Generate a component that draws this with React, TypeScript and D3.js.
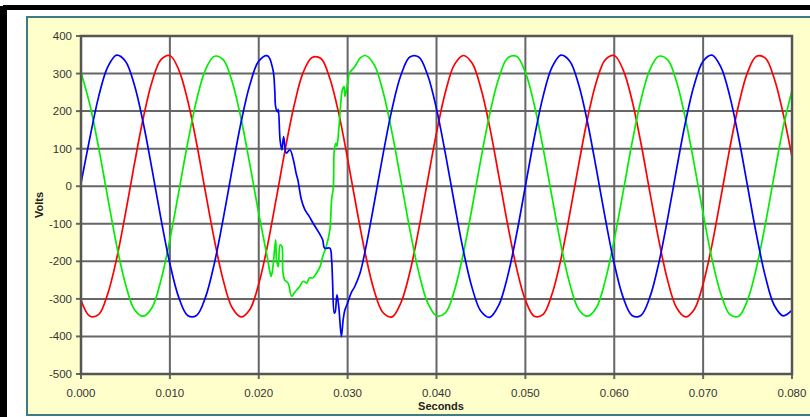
import * as d3 from "d3";
import { useRef, useEffect } from "react";

// [seconds, volts]
const blueSeries: [number, number][] = [
  [0.0, 8], [0.001, 129], [0.002, 240], [0.003, 317], [0.004, 349], [0.005, 333],
  [0.006, 270], [0.007, 169], [0.008, 44], [0.009, -87], [0.01, -206], [0.011, -296],
  [0.012, -344], [0.013, -344], [0.014, -296], [0.015, -206], [0.016, -87], [0.017, 44],
  [0.018, 169], [0.019, 270], [0.02, 333], [0.021, 347],
  // fault
  [0.0216, 310], [0.0218, 256], [0.0219, 212], [0.0221, 198], [0.0222, 205],
  [0.0224, 123], [0.0226, 97], [0.0228, 132], [0.0231, 88], [0.0235, 97],
  [0.0239, 70], [0.0242, 35], [0.0244, 17], [0.0248, -36], [0.0252, -63],
  [0.0257, -81], [0.0261, -98], [0.0267, -121], [0.0272, -143], [0.0274, -165],
  [0.028, -165], [0.0282, -196], [0.0283, -249], [0.0285, -338], [0.0286, -335],
  [0.0288, -289], [0.029, -320], [0.0293, -400], [0.0295, -355], [0.0297, -329],
  [0.03, -311], [0.0304, -284], [0.0308, -267], [0.0314, -231],
  [0.032, -169], [0.033, -44], [0.034, 87], [0.035, 206], [0.036, 296], [0.037, 344],
  [0.038, 344], [0.039, 296], [0.04, 206], [0.041, 87], [0.042, -44], [0.043, -169],
  [0.044, -270], [0.045, -333], [0.046, -349], [0.047, -317], [0.048, -240], [0.049, -129],
  [0.05, 0], [0.051, 129], [0.052, 240], [0.053, 317], [0.054, 349], [0.055, 333],
  [0.056, 270], [0.057, 169], [0.058, 44], [0.059, -87], [0.06, -206], [0.061, -296],
  [0.062, -344], [0.063, -344], [0.064, -296], [0.065, -206], [0.066, -87], [0.067, 44],
  [0.068, 169], [0.069, 270], [0.07, 333], [0.071, 349], [0.072, 317], [0.073, 240],
  [0.074, 129], [0.075, 0], [0.076, -129], [0.077, -240], [0.078, -317], [0.079, -345],
  [0.08, -330],
];

const redSeries: [number, number][] = [
  [0.0, -303], [0.001, -346], [0.002, -341], [0.003, -287], [0.004, -194], [0.005, -73],
  [0.006, 58], [0.007, 181], [0.008, 279], [0.009, 337], [0.01, 348], [0.011, 310],
  [0.012, 229], [0.013, 115], [0.014, -15], [0.015, -142], [0.016, -250], [0.017, -323],
  [0.018, -348], [0.019, -328], [0.02, -260], [0.021, -156], [0.022, -29], [0.023, 101],
  [0.024, 217], [0.025, 303], [0.026, 343], [0.027, 340], [0.028, 287], [0.029, 194],
  [0.03, 73], [0.031, -58], [0.032, -181], [0.033, -279], [0.034, -337], [0.035, -348],
  [0.036, -310], [0.037, -229], [0.038, -115], [0.039, 15], [0.04, 142], [0.041, 250],
  [0.042, 323], [0.043, 348], [0.044, 328], [0.045, 260], [0.046, 156], [0.047, 29],
  [0.048, -101], [0.049, -217], [0.05, -303], [0.051, -346], [0.052, -341], [0.053, -287],
  [0.054, -194], [0.055, -73], [0.056, 58], [0.057, 181], [0.058, 279], [0.059, 337],
  [0.06, 348], [0.061, 310], [0.062, 229], [0.063, 115], [0.064, -15], [0.065, -142],
  [0.066, -250], [0.067, -323], [0.068, -348], [0.069, -328], [0.07, -260], [0.071, -156],
  [0.072, -29], [0.073, 101], [0.074, 217], [0.075, 303], [0.076, 346], [0.077, 341],
  [0.078, 287], [0.079, 194], [0.08, 78],
];

const greenSeries: [number, number][] = [
  [0.0, 303], [0.001, 217], [0.002, 101], [0.003, -29], [0.004, -156], [0.005, -260],
  [0.006, -328], [0.007, -346], [0.008, -323], [0.009, -250], [0.01, -142], [0.011, -15],
  [0.012, 115], [0.013, 229], [0.014, 310], [0.015, 346], [0.016, 337], [0.017, 279],
  [0.018, 181], [0.019, 58], [0.02, -73], [0.021, -194],
  // fault
  [0.0212, -222], [0.0214, -240], [0.0216, -214], [0.0219, -143], [0.022, -196],
  [0.0222, -214], [0.0224, -156], [0.0226, -160], [0.0227, -222], [0.0229, -249],
  [0.0233, -258], [0.0237, -293], [0.024, -284], [0.0246, -267], [0.025, -253],
  [0.0254, -258], [0.0257, -244], [0.0261, -244], [0.0265, -231], [0.0269, -214],
  [0.0272, -187], [0.0276, -160], [0.028, -116], [0.0282, -36], [0.0284, -1],
  [0.0285, 97], [0.0287, 115], [0.0288, 106], [0.029, 150], [0.0292, 212],
  [0.0294, 256], [0.0296, 265], [0.0297, 239], [0.03, 274], [0.0302, 301],
  [0.0308, 318], [0.0314, 341],
  [0.032, 348], [0.033, 323], [0.034, 250], [0.035, 142], [0.036, 15], [0.037, -115],
  [0.038, -229], [0.039, -310], [0.04, -345], [0.041, -337], [0.042, -279], [0.043, -181],
  [0.044, -58], [0.045, 73], [0.046, 194], [0.047, 287], [0.048, 341], [0.049, 346],
  [0.05, 303], [0.051, 217], [0.052, 101], [0.053, -29], [0.054, -156], [0.055, -260],
  [0.056, -328], [0.057, -346], [0.058, -323], [0.059, -250], [0.06, -142], [0.061, -15],
  [0.062, 115], [0.063, 229], [0.064, 310], [0.065, 346], [0.066, 337], [0.067, 279],
  [0.068, 181], [0.069, 58], [0.07, -73], [0.071, -194], [0.072, -287], [0.073, -341],
  [0.074, -346], [0.075, -303], [0.076, -217], [0.077, -101], [0.078, 29], [0.079, 156],
  [0.08, 255],
];

const yTicks = [-500, -400, -300, -200, -100, 0, 100, 200, 300, 400];
const xTicks = [0, 0.01, 0.02, 0.03, 0.04, 0.05, 0.06, 0.07, 0.08];
const xTickLabels = ["0.000", "0.010", "0.020", "0.030", "0.040", "0.050", "0.060", "0.070", "0.080"];

const seriesList = [
  { name: "red", data: redSeries, color: "#ff0000" },
  { name: "green", data: greenSeries, color: "#00ee00" },
  { name: "blue", data: blueSeries, color: "#0000ff" },
];

const App = () => {
  const container = useRef<SVGSVGElement>(null);

  useEffect(() => {
    let width = 810;
    let height = 417;
    let plot = { l: 81, t: 36, r: 792, b: 374 };
    let font = "'Liberation Sans', Arial, sans-serif";
    let gridColor = "#666666";

    let svg = d3.select(container.current);
    svg.selectAll("*").remove();

    // outer frame
    svg.append("rect").attr("width", width).attr("height", height).attr("fill", "#ffffff");
    svg.append("rect").attr("x", 0).attr("y", 6).attr("width", 7).attr("height", height).attr("fill", "#000");
    svg.append("rect").attr("x", 3).attr("y", 5).attr("width", width).attr("height", 5).attr("fill", "#000");

    // yellow panel
    svg
      .append("rect")
      .attr("x", 27)
      .attr("y", 17)
      .attr("width", width + 20)
      .attr("height", 398)
      .attr("fill", "#ffffcc")
      .attr("stroke", "#3d7c80")
      .attr("stroke-width", 2);

    let xScale = d3.scaleLinear().domain([0, 0.08]).range([plot.l, plot.r]);
    let yScale = d3.scaleLinear().domain([-500, 400]).range([plot.b, plot.t]);

    // plot area
    svg
      .append("rect")
      .attr("x", plot.l)
      .attr("y", plot.t)
      .attr("width", plot.r - plot.l)
      .attr("height", plot.b - plot.t)
      .attr("fill", "#ffffff");

    let gridg = svg.append("g").attr("class", "grid-g");
    gridg
      .selectAll(".h-grid")
      .data(yTicks.slice(1, -1))
      .join("line")
      .attr("class", "h-grid")
      .attr("x1", plot.l)
      .attr("x2", plot.r)
      .attr("y1", (d) => yScale(d))
      .attr("y2", (d) => yScale(d))
      .attr("stroke", gridColor)
      .attr("stroke-width", 2);
    gridg
      .selectAll(".v-grid")
      .data(xTicks.slice(1, -1))
      .join("line")
      .attr("class", "v-grid")
      .attr("x1", (d) => xScale(d))
      .attr("x2", (d) => xScale(d))
      .attr("y1", plot.t)
      .attr("y2", plot.b)
      .attr("stroke", gridColor)
      .attr("stroke-width", 2);

    // tick marks
    gridg
      .selectAll(".y-tick")
      .data(yTicks)
      .join("line")
      .attr("class", "y-tick")
      .attr("x1", plot.l - 5)
      .attr("x2", plot.l)
      .attr("y1", (d) => yScale(d))
      .attr("y2", (d) => yScale(d))
      .attr("stroke", gridColor)
      .attr("stroke-width", 2);
    gridg
      .selectAll(".x-tick")
      .data(xTicks)
      .join("line")
      .attr("class", "x-tick")
      .attr("x1", (d) => xScale(d))
      .attr("x2", (d) => xScale(d))
      .attr("y1", plot.b)
      .attr("y2", plot.b + 5)
      .attr("stroke", gridColor)
      .attr("stroke-width", 2);

    // series
    let lineGen = d3
      .line<[number, number]>()
      .x((d) => xScale(d[0]))
      .y((d) => yScale(d[1]))
      .curve(d3.curveCatmullRom.alpha(0.5));

    svg
      .append("g")
      .attr("class", "lines-g")
      .selectAll(".data-line")
      .data(seriesList)
      .join("path")
      .attr("class", "data-line")
      .attr("d", (d) => lineGen(d.data))
      .attr("fill", "none")
      .attr("stroke", (d) => d.color)
      .attr("stroke-width", 1.7)
      .attr("stroke-linejoin", "round");

    // plot border
    svg
      .append("rect")
      .attr("x", plot.l)
      .attr("y", plot.t)
      .attr("width", plot.r - plot.l)
      .attr("height", plot.b - plot.t)
      .attr("fill", "none")
      .attr("stroke", "#555555")
      .attr("stroke-width", 2.5);

    // labels
    svg
      .selectAll(".y-label")
      .data(yTicks)
      .join("text")
      .attr("class", "y-label")
      .attr("x", plot.l - 9)
      .attr("y", (d) => yScale(d) + 4)
      .attr("text-anchor", "end")
      .attr("font-family", font)
      .attr("font-size", 11.5)
      .attr("fill", "#333")
      .text((d) => d);

    svg
      .selectAll(".x-label")
      .data(xTicks)
      .join("text")
      .attr("class", "x-label")
      .attr("x", (d) => xScale(d))
      .attr("y", 397)
      .attr("text-anchor", "middle")
      .attr("font-family", font)
      .attr("font-size", 11.5)
      .attr("fill", "#333")
      .text((d, i) => xTickLabels[i]);

    svg
      .append("text")
      .attr("x", 441)
      .attr("y", 410)
      .attr("text-anchor", "middle")
      .attr("font-family", font)
      .attr("font-size", 11)
      .attr("font-weight", 700)
      .attr("fill", "#222")
      .text("Seconds");

    svg
      .append("text")
      .attr("transform", `translate(43,${(plot.t + plot.b) / 2})rotate(-90)`)
      .attr("text-anchor", "middle")
      .attr("font-family", font)
      .attr("font-size", 11)
      .attr("font-weight", 700)
      .attr("fill", "#222")
      .text("Volts");
  }, []);

  return (
    <svg
      ref={container}
      width={810}
      height={417}
      style={{ position: "absolute", left: 0, top: 0, display: "block" }}
    />
  );
};

export default App;
